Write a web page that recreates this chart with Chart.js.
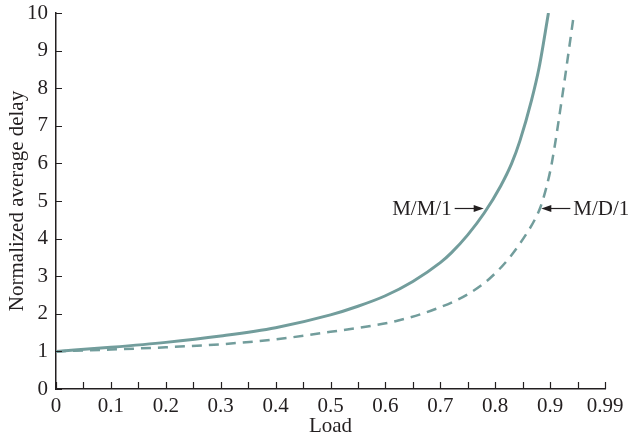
<!DOCTYPE html>
<html>
<head>
<meta charset="utf-8">
<script src="https://cdn.jsdelivr.net/npm/chart.js@4/dist/chart.umd.min.js"></script>
<style>
  html, body { margin: 0; padding: 0; background: #fff; }
  #wrap { width: 631px; height: 440px; }
</style>
</head>
<body>
<div id="wrap"><canvas id="chart"></canvas></div>
<script>
// values
const mm1Load  = [0, 0.1, 0.2, 0.3, 0.4, 0.5, 0.55, 0.6, 0.65, 0.7, 0.72, 0.75, 0.78, 0.81, 0.83, 0.845, 0.866, 0.88, 0.897];
const mm1Delay = [1, 1.11, 1.24, 1.41, 1.63, 1.97, 2.2, 2.48, 2.86, 3.36, 3.62, 4.1, 4.68, 5.4, 6.0, 6.6, 7.67, 8.55, 10];
const md1Load  = [0, 0.1, 0.2, 0.3, 0.4, 0.5, 0.57, 0.62, 0.69, 0.75, 0.79, 0.827, 0.857, 0.872, 0.882, 0.893, 0.903, 0.921, 0.943];
const md1Delay = [1, 1.05, 1.11, 1.19, 1.32, 1.52, 1.67, 1.81, 2.12, 2.52, 2.94, 3.51, 4.13, 4.5, 4.82, 5.35, 6.0, 7.67, 9.93];
const seriesNames = ['M/M/1', 'M/D/1'];
const lastTickLabel = '0.99';

const curveColor = '#729d9c';
const inkColor = '#231f20';
const serif = '"Liberation Serif", "Times New Roman", serif';

const toPoints = (xs, ys) => xs.map((x, i) => ({ x, y: ys[i] }));

// inward tick marks plus the two arrow labels
const figureMarks = {
  id: 'figureMarks',
  afterDraw(chart) {
    const { ctx, scales: { x, y } } = chart;
    ctx.save();
    ctx.strokeStyle = inkColor;
    ctx.lineWidth = 1.2;
    ctx.beginPath();
    x.ticks.forEach(t => {
      const px = Math.round(x.getPixelForValue(t.value)) + 0.5;
      ctx.moveTo(px, y.bottom);
      ctx.lineTo(px, y.bottom - 7);
    });
    y.ticks.forEach(t => {
      const py = Math.round(y.getPixelForValue(t.value)) + 0.5;
      ctx.moveTo(x.left, py);
      ctx.lineTo(x.left + 6, py);
    });
    ctx.stroke();

    // dir: side the label sits on (-1 left, +1 right)
    const arrows = [
      { text: seriesNames[0], tip: [0.779, 4.81], dir: -1 },
      { text: seriesNames[1], tip: [0.884, 4.81], dir: 1 }
    ];
    ctx.font = '21px ' + serif;
    ctx.fillStyle = inkColor;
    ctx.textBaseline = 'middle';
    arrows.forEach(a => {
      const tx = x.getPixelForValue(a.tip[0]);
      const ty = Math.round(y.getPixelForValue(a.tip[1])) + 0.5;
      const tail = tx + a.dir * 29;
      ctx.beginPath();
      ctx.moveTo(tail, ty);
      ctx.lineTo(tx + a.dir * 8, ty);
      ctx.stroke();
      ctx.beginPath();
      ctx.moveTo(tx, ty);
      ctx.lineTo(tx + a.dir * 10, ty - 3.5);
      ctx.lineTo(tx + a.dir * 10, ty + 3.5);
      ctx.closePath();
      ctx.fill();
      ctx.textAlign = a.dir < 0 ? 'right' : 'left';
      ctx.fillText(a.text, tail + a.dir * 3, ty + 1);
    });
    ctx.restore();
  }
};

new Chart(document.getElementById('chart'), {
  type: 'line',
  data: {
    datasets: [
      {
        label: seriesNames[0],
        data: toPoints(mm1Load, mm1Delay),
        borderColor: curveColor,
        borderWidth: 3,
        pointRadius: 0,
        cubicInterpolationMode: 'monotone',
        fill: false
      },
      {
        label: seriesNames[1],
        data: toPoints(md1Load, md1Delay),
        borderColor: curveColor,
        borderWidth: 2.5,
        borderDash: [10, 7],
        pointRadius: 0,
        cubicInterpolationMode: 'monotone',
        fill: false
      }
    ]
  },
  options: {
    responsive: true,
    maintainAspectRatio: false,
    animation: false,
    layout: { padding: { left: 0, right: 26, top: 13, bottom: 0 } },
    plugins: {
      legend: { display: false },
      tooltip: { enabled: false }
    },
    scales: {
      x: {
        type: 'linear',
        min: 0,
        max: 1,
        grid: { display: false, drawTicks: false },
        border: { display: true, color: inkColor, width: 1.5 },
        afterFit: s => { s.height = 51; },
        ticks: {
          stepSize: 0.05,
          autoSkip: false,
          maxRotation: 0,
          padding: 5,
          color: inkColor,
          font: { family: serif, size: 21 },
          callback: v => {
            if (Math.abs(v - 1) < 1e-6) return lastTickLabel;
            const tenth = Math.round(v * 10);
            return Math.abs(v * 10 - tenth) < 1e-6 ? (tenth === 0 ? '0' : (tenth / 10).toString()) : '';
          }
        },
        title: {
          display: true,
          text: 'Load',
          color: inkColor,
          font: { family: serif, size: 21 },
          padding: { top: 0, bottom: 1 }
        }
      },
      y: {
        min: 0,
        max: 10,
        grid: { display: false, drawTicks: false },
        border: { display: true, color: inkColor, width: 1.5 },
        afterFit: s => { s.width = 56; s.paddingTop = 0; s.paddingBottom = 0; },
        ticks: {
          stepSize: 1,
          padding: 8,
          color: inkColor,
          font: { family: serif, size: 21 }
        },
        title: {
          display: true,
          text: 'Normalized average delay',
          color: inkColor,
          font: { family: serif, size: 21 },
          padding: { top: 5, bottom: 0 }
        }
      }
    }
  },
  plugins: [figureMarks]
});
</script>
</body>
</html>
